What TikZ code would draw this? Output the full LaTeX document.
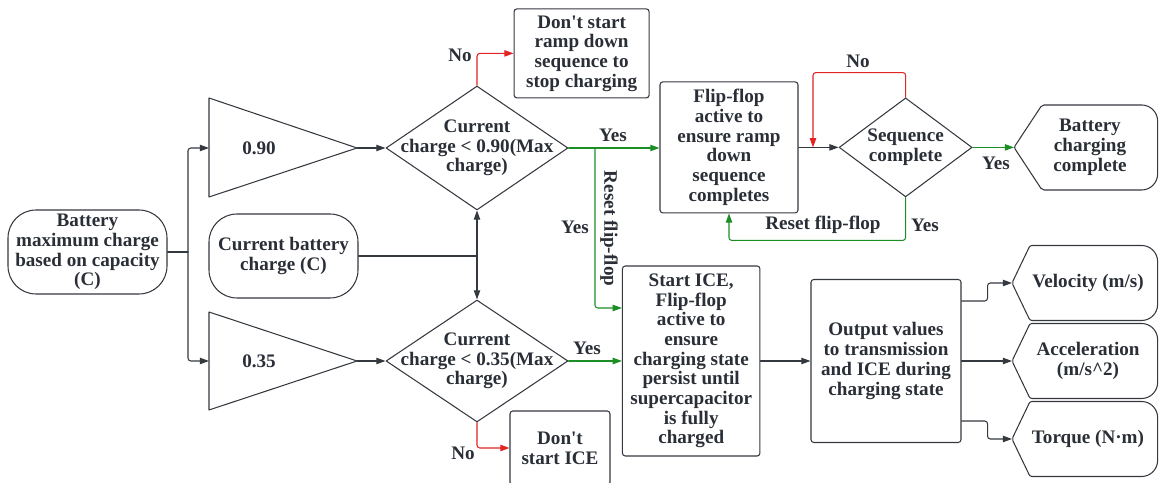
\documentclass[tikz,border=0pt]{standalone}
\usepackage{fontspec}
\setmainfont{Liberation Serif}
\usetikzlibrary{arrows.meta,shapes.geometric}
\definecolor{ink}{RGB}{42,46,54}
\definecolor{linegray}{RGB}{52,56,63}
\definecolor{noline}{RGB}{228,36,36}
\definecolor{yesline}{RGB}{28,142,38}

\begin{document}
\begin{tikzpicture}[
  x=1cm,
  y=1cm,
  font=\rmfamily\bfseries\fontsize{13.6}{14}\selectfont,
  line cap=round,
  line join=round,
  shapeline/.style={
    draw=linegray,
    line width=0.75pt
  },
  box/.style={
    shapeline,
    rectangle,
    rounded corners=2pt,
    align=center,
    text=ink,
    inner sep=0pt
  },
  startend/.style={
    box,
    rounded corners=0.7cm
  },
  decision/.style={
    shapeline,
    diamond,
    inner sep=0pt
  },
  flowtext/.style={
    text=ink,
    align=center,
    inner sep=0pt
  },
  arrow/.style={
    -{Triangle[length=2.3mm,width=1.6mm]},
    draw=linegray,
    line width=0.75pt,
    rounded corners=2pt
  },
  noarrow/.style={
    arrow,
    draw=noline
  },
  yesarrow/.style={
    arrow,
    draw=yesline
  },
  plainline/.style={
    draw=linegray,
    line width=0.75pt,
    rounded corners=2pt
  }
]
\useasboundingbox (0,0) rectangle (28.975,12.075);

% ---------------------------------------------------------------------------
% Inputs: maximum charge, the two threshold gains, present charge.
% ---------------------------------------------------------------------------
\node[startend,minimum width=3.975cm,minimum height=2.1cm] (maxcharge)
  at (2.1875,5.775) {Battery\\maximum charge\\based on capacity\\(C)};
\node[startend,minimum width=3.725cm,minimum height=2.1cm] (curcharge)
  at (7.0875,5.675) {Current battery\\charge (C)};

% Gain blocks.
\draw[shapeline] (5.225,9.625) -- (8.925,8.375) -- (5.225,7.15) -- cycle;
\node[flowtext] (gainhigh) at (6.475,8.375) {0.90};
\coordinate (gainhighin) at (5.225,8.375);
\coordinate (gainhighout) at (8.925,8.375);

\draw[shapeline] (5.225,4.275) -- (8.925,3.05) -- (5.225,1.825) -- cycle;
\node[flowtext] (gainlow) at (6.475,3.05) {0.35};
\coordinate (gainlowin) at (5.225,3.05);
\coordinate (gainlowout) at (8.925,3.05);

\coordinate (split) at (4.7,5.775);
\draw[plainline] (maxcharge.east) -- (split);
\draw[arrow] (split) |- (gainhighin);
\draw[arrow] (split) |- (gainlowin);

% ---------------------------------------------------------------------------
% Threshold checks.
% ---------------------------------------------------------------------------
\node[decision,minimum width=4.55cm,minimum height=3.1cm] (checkhigh)
  at (11.925,8.375) {};
\node[flowtext] (checkhightext) at (checkhigh)
  {Current\\charge < 0.90(Max\\charge)};
\node[decision,minimum width=4.55cm,minimum height=3.05cm] (checklow)
  at (11.925,3.05) {};
\node[flowtext] (checklowtext) at (checklow)
  {Current\\charge < 0.35(Max\\charge)};

\draw[arrow] (gainhighout) -- (checkhigh.west);
\draw[arrow] (gainlowout) -- (checklow.west);

\coordinate (curjoin) at (11.925,5.675);
\draw[plainline] (curcharge.east) -- (curjoin);
\draw[arrow] (curjoin) -- (checkhigh.south);
\draw[arrow] (curjoin) -- (checklow.north);

% "No" outcomes.
\node[box,minimum width=3.375cm,minimum height=2.225cm] (noramp)
  at (14.54,10.74) {Don\textquotesingle t start\\ramp down\\sequence to\\stop charging};
\draw[noarrow] (checkhigh.north) |- (noramp.west);
\node[flowtext] (nohigh) at (11.5,10.7) {No};

\node[box,minimum width=2.5cm,minimum height=1.85cm] (noice)
  at (14.0,0.875) {Don\textquotesingle t\\start ICE};
\draw[noarrow] (checklow.south) |- (noice.west);
\node[flowtext] (nolow) at (11.575,0.75) {No};

% ---------------------------------------------------------------------------
% Ramp-down branch.
% ---------------------------------------------------------------------------
\node[box,minimum width=3.45cm,minimum height=3.275cm] (rampflop)
  at (18.225,8.39)
  {Flip-flop\\active to\\ensure ramp\\down\\sequence\\completes};
\draw[yesarrow] (checkhigh.east) -- (checkhigh.east -| rampflop.west);
\node[flowtext] (yeshigh) at (15.325,8.70) {Yes};

\node[decision,minimum width=3.325cm,minimum height=2.475cm] (seqcheck)
  at (22.64,8.39) {};
\node[flowtext] (seqchecktext) at (seqcheck) {Sequence\\complete};
\draw[arrow] (rampflop.east) -- (seqcheck.west);

\coordinate (loopin) at (20.325,8.39);
\draw[noarrow] (seqcheck.north) -- ++(0,0.62) -| (loopin);
\node[flowtext] (noseq) at (21.45,10.55) {No};

\draw[yesarrow] (seqcheck.south) -- ++(0,-1.075) -| (rampflop.south);
\node[flowtext] (resetright) at (20.575,6.45) {Reset flip-flop};
\node[flowtext] (yesseqdown) at (23.125,6.45) {Yes};

% Charging finished.
\draw[shapeline,rounded corners=1.5pt] (25.35,8.39) -- (26.05,9.45)
  [rounded corners=0.4cm] -- (28.94,9.45) -- (28.94,7.325)
  [rounded corners=1.5pt] -- (26.05,7.325) -- cycle;
\node[flowtext] (chargedone) at (27.25,8.39)
  {Battery\\charging\\complete};
\coordinate (chargedonein) at (25.35,8.39);
\draw[yesarrow] (seqcheck.east) -- (chargedonein);
\node[flowtext] (yesseq) at (24.9,8.0) {Yes};

% ---------------------------------------------------------------------------
% Charging branch.
% ---------------------------------------------------------------------------
\node[box,minimum width=3.4375cm,minimum height=4.75cm] (icestart)
  at (17.28,3.05)
  {Start ICE,\\Flip-flop\\active to\\ensure\\charging state\\persist until\\supercapacitor\\is fully\\charged};
\draw[yesarrow] (checklow.east) -- (icestart.west);
\node[flowtext] (yeslow) at (14.675,3.375) {Yes};

\coordinate (resetsplit) at (14.875,8.375);
\draw[yesarrow] (resetsplit) |- ([yshift=1.325cm]icestart.west);
\node[flowtext,rotate=-90] (resetleft) at (15.225,6.36) {Reset flip-flop};
\node[flowtext] (yesreset) at (14.375,6.4) {Yes};

\node[box,minimum width=3.75cm,minimum height=4.075cm] (outvalues)
  at (22.15,3.05)
  {Output values\\to transmission\\and ICE during\\charging state};
\draw[arrow] (icestart.east) -- (outvalues.west);

% Output signals.
\foreach \name/\cy/\txt in {velocity/5.0/{Velocity (m/s)},
    accel/3.05/{Acceleration\\(m/s\textasciicircum 2)},
    torque/1.1/{Torque (N·m)}} {
  \draw[shapeline,rounded corners=1.5pt] (25.3,\cy) -- ++(0.45,0.9375)
    [rounded corners=0.4cm] -- (28.94,\cy+0.9375) -- (28.94,\cy-0.9375)
    [rounded corners=1.5pt] -- (25.75,\cy-0.9375) -- cycle;
  \node[flowtext] (\name) at (27.2,\cy) {\txt};
  \coordinate (\name-in) at (25.3,\cy);
}

\draw[arrow] ([yshift=1.5cm]outvalues.east) -- ++(0.65,0) |- (velocity-in);
\draw[arrow] (outvalues.east) -- (accel-in);
\draw[arrow] ([yshift=-1.5cm]outvalues.east) -- ++(0.65,0) |- (torque-in);

\end{tikzpicture}
\end{document}
